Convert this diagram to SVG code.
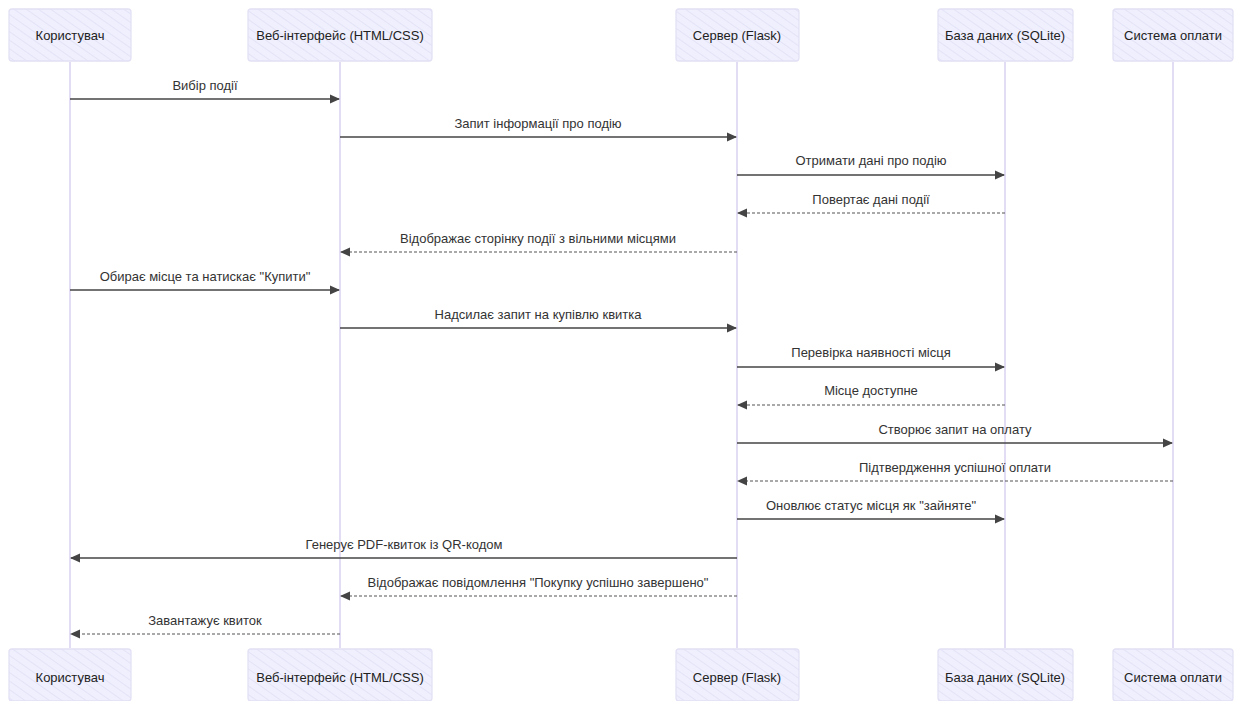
<svg xmlns="http://www.w3.org/2000/svg" width="1242" height="701" viewBox="0 0 1242 701">
<style>
.box{fill:url(#hatch);stroke:#e2e0f4;stroke-width:1.3}
.life{stroke:#d9d2f2;stroke-width:1.5}
.lbl{font-family:"Liberation Sans",Arial,sans-serif;font-size:13px;fill:#333;text-anchor:middle}
.aname{font-family:"Liberation Sans",Arial,sans-serif;font-size:13px;fill:#222;text-anchor:middle;dominant-baseline:central}
.msg{stroke:#444;stroke-width:1.6;fill:none}
.dash{stroke:#555;stroke-width:1.2;fill:none;stroke-dasharray:3 2}
</style>
<defs>
<pattern id="hatch" patternUnits="userSpaceOnUse" width="7" height="7" patternTransform="rotate(-55)">
<rect width="7" height="7" fill="#efeffd"/>
<line x1="0" y1="0" x2="0" y2="7" stroke="#e0e0f6" stroke-width="1.5"/>
</pattern>
<marker id="arr" markerWidth="10" markerHeight="10" refX="9" refY="5" orient="auto" markerUnits="userSpaceOnUse">
<path d="M0,0.5 L10,5 L0,9.5 Z" fill="#444"/>
</marker>
</defs>
<rect width="1242" height="701" fill="#fff"/>
<g id="lifelines">
<line class="life" x1="70" y1="62" x2="70" y2="648"/>
<line class="life" x1="340" y1="62" x2="340" y2="648"/>
<line class="life" x1="737" y1="62" x2="737" y2="648"/>
<line class="life" x1="1005" y1="62" x2="1005" y2="648"/>
<line class="life" x1="1173" y1="62" x2="1173" y2="648"/>
</g>
<g id="user-top"><rect class="box" x="9" y="9" width="122" height="52" rx="3"/><text class="aname" x="70" y="35">Користувач</text></g>
<g id="web-top"><rect class="box" x="248" y="9" width="184" height="52" rx="3"/><text class="aname" x="340" y="35">Веб-інтерфейс (HTML/CSS)</text></g>
<g id="server-top"><rect class="box" x="676" y="9" width="123" height="52" rx="3"/><text class="aname" x="737" y="35">Сервер (Flask)</text></g>
<g id="db-top"><rect class="box" x="938" y="9" width="135" height="52" rx="3"/><text class="aname" x="1005" y="35">База даних (SQLite)</text></g>
<g id="pay-top"><rect class="box" x="1113" y="9" width="120" height="52" rx="3"/><text class="aname" x="1173" y="35">Система оплати</text></g>
<g id="user-bottom"><rect class="box" x="9" y="649" width="122" height="52" rx="3"/><text class="aname" x="70" y="677">Користувач</text></g>
<g id="web-bottom"><rect class="box" x="248" y="649" width="184" height="52" rx="3"/><text class="aname" x="340" y="677">Веб-інтерфейс (HTML/CSS)</text></g>
<g id="server-bottom"><rect class="box" x="676" y="649" width="123" height="52" rx="3"/><text class="aname" x="737" y="677">Сервер (Flask)</text></g>
<g id="db-bottom"><rect class="box" x="938" y="649" width="135" height="52" rx="3"/><text class="aname" x="1005" y="677">База даних (SQLite)</text></g>
<g id="pay-bottom"><rect class="box" x="1113" y="649" width="120" height="52" rx="3"/><text class="aname" x="1173" y="677">Система оплати</text></g>
<g id="connectors">
<line class="msg" x1="70" y1="99" x2="339" y2="99" marker-end="url(#arr)"/>
<text class="lbl" x="205" y="90">Вибір події</text>
<line class="msg" x1="340" y1="137" x2="736" y2="137" marker-end="url(#arr)"/>
<text class="lbl" x="538" y="128">Запит інформації про подію</text>
<line class="msg" x1="737" y1="175" x2="1004" y2="175" marker-end="url(#arr)"/>
<text class="lbl" x="871" y="165">Отримати дані про подію</text>
<line class="dash" x1="1005" y1="213" x2="738" y2="213" marker-end="url(#arr)"/>
<text class="lbl" x="871" y="204">Повертає дані події</text>
<line class="dash" x1="737" y1="252" x2="341" y2="252" marker-end="url(#arr)"/>
<text class="lbl" x="538" y="243">Відображає сторінку події з вільними місцями</text>
<line class="msg" x1="70" y1="290" x2="339" y2="290" marker-end="url(#arr)"/>
<text class="lbl" x="205" y="281">Обирає місце та натискає "Купити"</text>
<line class="msg" x1="340" y1="328" x2="736" y2="328" marker-end="url(#arr)"/>
<text class="lbl" x="538" y="319">Надсилає запит на купівлю квитка</text>
<line class="msg" x1="737" y1="367" x2="1004" y2="367" marker-end="url(#arr)"/>
<text class="lbl" x="871" y="357">Перевірка наявності місця</text>
<line class="dash" x1="1005" y1="405" x2="738" y2="405" marker-end="url(#arr)"/>
<text class="lbl" x="871" y="395">Місце доступне</text>
<line class="msg" x1="737" y1="443" x2="1172" y2="443" marker-end="url(#arr)"/>
<text class="lbl" x="955" y="434">Створює запит на оплату</text>
<line class="dash" x1="1173" y1="481" x2="738" y2="481" marker-end="url(#arr)"/>
<text class="lbl" x="955" y="472">Підтвердження успішної оплати</text>
<line class="msg" x1="737" y1="519" x2="1004" y2="519" marker-end="url(#arr)"/>
<text class="lbl" x="871" y="510">Оновлює статус місця як "зайняте"</text>
<line class="msg" x1="737" y1="558" x2="71" y2="558" marker-end="url(#arr)"/>
<text class="lbl" x="404" y="549">Генерує PDF-квиток із QR-кодом</text>
<line class="dash" x1="737" y1="596" x2="341" y2="596" marker-end="url(#arr)"/>
<text class="lbl" x="538" y="587">Відображає повідомлення "Покупку успішно завершено"</text>
<line class="dash" x1="340" y1="634" x2="71" y2="634" marker-end="url(#arr)"/>
<text class="lbl" x="205" y="625">Завантажує квиток</text>
</g>
</svg>
